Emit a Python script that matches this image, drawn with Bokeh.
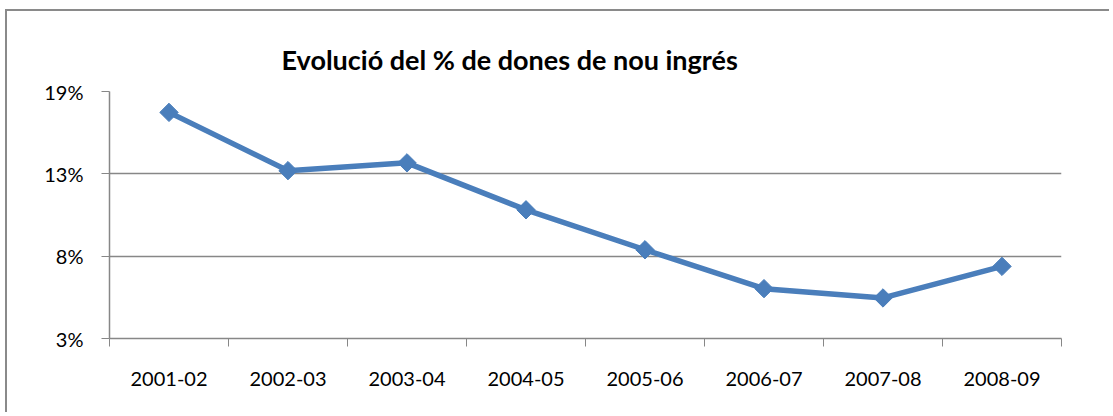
import math
from bokeh.plotting import figure
from bokeh.models import Range1d, FixedTicker, Title, ColumnDataSource
from bokeh.embed import file_html
from bokeh.resources import INLINE

# ---- data ----
categories = ["2001-02", "2002-03", "2003-04", "2004-05", "2005-06", "2006-07", "2007-08", "2008-09"]
pct_women = [17.33, 13.51, 14.02, 10.94, 8.32, 5.77, 5.16, 7.23]
y_ticks = [2.5, 7.9, 13.3, 18.7]
y_tick_labels = ["3%", "8%", "13%", "19%"]
title_text = "Evolució del % de dones de nou ingrés"

xs = [i + 0.5 for i in range(len(categories))]
src = ColumnDataSource(dict(x=xs, y=pct_women, cat=categories))

GRAY = "#878787"
BLUE = "#4a7ebb"
FONT = "Lato"

p = figure(width=1104, height=403, output_backend="svg", toolbar_location=None,
           x_range=Range1d(0, len(categories)), y_range=Range1d(y_ticks[0], y_ticks[-1]),
           min_border_left=102, min_border_right=50, min_border_top=80, min_border_bottom=76)
p.outline_line_color = None
p.background_fill_color = "white"
p.border_fill_color = "white"
p.styles = {"border-left": "2px solid #8a8a8a", "border-top": "2px solid #8a8a8a",
            "margin-left": "5px", "margin-top": "9px"}

t = Title(text=title_text, align="left", offset=172, text_font=FONT,
          text_font_size="27px", text_font_style="bold", text_color="black", standoff=32)
p.add_layout(t, "above")

# x axis: labels at category centres, Excel-style ticks between categories (minor ticks)
p.xaxis.ticker = FixedTicker(ticks=xs, minor_ticks=list(range(len(categories) + 1)))
p.xaxis.major_label_overrides = {x: c for x, c in zip(xs, categories)}
p.xaxis.major_tick_out = 0
p.xaxis.major_tick_in = 0
p.xaxis.minor_tick_out = 8
p.xaxis.minor_tick_in = 0
p.xaxis.minor_tick_line_color = GRAY
p.xaxis.axis_line_color = GRAY
p.xaxis.axis_line_width = 1.5
p.xaxis.major_label_text_font = FONT
p.xaxis.major_label_text_font_size = "20px"
p.xaxis.major_label_text_color = "black"
p.xaxis.major_label_standoff = 25

p.yaxis.ticker = FixedTicker(ticks=y_ticks)
p.yaxis.major_label_overrides = {v: l for v, l in zip(y_ticks, y_tick_labels)}
p.yaxis.major_tick_out = 8
p.yaxis.major_tick_in = 0
p.yaxis.minor_tick_line_color = None
p.yaxis.major_tick_line_color = GRAY
p.yaxis.axis_line_color = GRAY
p.yaxis.axis_line_width = 1.5
p.yaxis.major_label_text_font = FONT
p.yaxis.major_label_text_font_size = "20px"
p.yaxis.major_label_text_color = "black"
p.yaxis.major_label_standoff = 18

p.xgrid.grid_line_color = None
p.ygrid.ticker = FixedTicker(ticks=y_ticks)
p.ygrid.grid_line_color = GRAY
p.ygrid.grid_line_width = 1.5

p.line("x", "y", source=src, line_color=BLUE, line_width=5.5)
p.scatter("x", "y", source=src, marker="square", angle=math.pi / 4, size=13,
          fill_color=BLUE, line_color=BLUE)

open("out.html", "w").write(file_html(p, INLINE))
